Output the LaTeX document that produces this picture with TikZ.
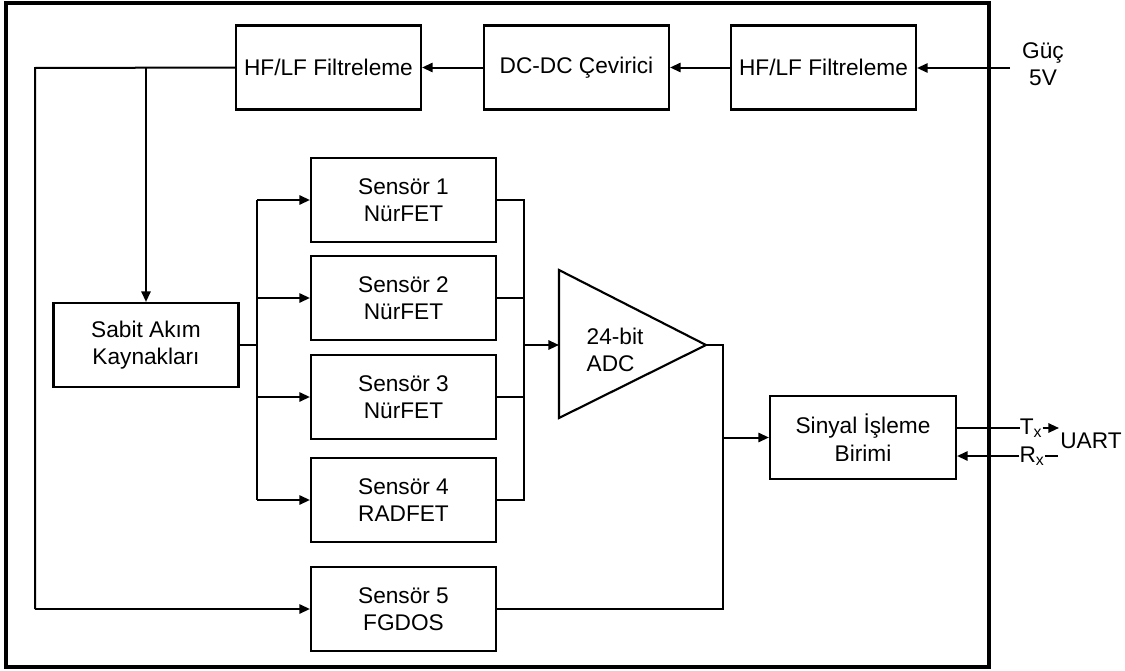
\documentclass[tikz,border=0pt]{standalone}
\usepackage{fontspec}
\setmainfont{Liberation Sans}
\usetikzlibrary{arrows.meta}
\begin{document}
\begin{tikzpicture}[x=0.75pt,y=-0.75pt,
  every node/.style={font=\fontsize{17}{20.5}\selectfont},
  blk/.style={draw,line width=1.6pt,minimum width=138.75pt,minimum height=63pt,inner sep=0pt,align=center},
  wire/.style={line width=1.5pt},
  arr/.style={line width=1.5pt,-{Triangle[length=8pt,width=7pt]}},
  lbl/.style={inner sep=0pt,align=center}]
\useasboundingbox (0,0) rectangle (1125,671);
\draw[line width=2.4pt] (6,3) rectangle (989,667);
% top row
\node[blk] (f1) at (823.5,67.5) {HF/LF Filtreleme};
\node[blk] (dc) at (576.5,67.5) {DC-DC Çevirici};
\node[blk] (f2) at (328.5,67.5) {HF/LF Filtreleme};
\node[lbl] (gc) at (1043,64) {Güç\\5V};
\coordinate (gin) at (1010,68);
\draw[arr] (gin) -- (f1.east |- gin);
\draw[arr] (f1.west) -- (dc.east);
\draw[arr] (dc.west) -- (f2.east);
% sabit
\node[blk] (sa) at (146,345) {Sabit Akım\\Kaynakları};
% sensors
\node[blk] (s1) at (403.5,200) {Sensör 1\\NürFET};
\node[blk] (s2) at (403.5,298) {Sensör 2\\NürFET};
\node[blk] (s3) at (403.5,397) {Sensör 3\\NürFET};
\node[blk] (s4) at (403.5,500) {Sensör 4\\RADFET};
\node[blk] (s5) at (403.5,609) {Sensör 5\\FGDOS};
% power distribution
\coordinate (pl) at (35,68);
\coordinate (pb) at (146,68);
\draw[wire] (f2.west) -- (pl) -- (pl |- s5.west);
\draw[arr] (pl |- s5.west) -- (s5.west);
\draw[arr] (pb) -- (sa.north);
% bus from sabit
\coordinate (bx) at (257,345);
\draw[wire] (sa.east |- bx) -- (bx);
\draw[wire] (bx |- s1.west) -- (bx |- s4.west);
\draw[arr] (bx |- s1.west) -- (s1.west);
\draw[arr] (bx |- s2.west) -- (s2.west);
\draw[arr] (bx |- s3.west) -- (s3.west);
\draw[arr] (bx |- s4.west) -- (s4.west);
% sensor outputs
\coordinate (ox) at (524,345);
\draw[wire] (s1.east) -- (ox |- s1.east) -- (ox |- s4.east) -- (s4.east);
\draw[wire] (s2.east) -- (ox |- s2.east);
\draw[wire] (s3.east) -- (ox |- s3.east);
% ADC
\coordinate (adcin) at (559,345);
\coordinate (adcout) at (706,345);
\draw[line width=1.6pt,line join=miter] (559,270) -- (adcout) -- (559,418) -- cycle;
\node[lbl,align=left] (adct) at (615,350) {24-bit\\ADC};
\draw[arr] (ox) -- (adcin);
% signal processing
\node[blk,minimum width=139.5pt,minimum height=62.25pt] (sp) at (863,437.5) {Sinyal İşleme\\Birimi};
\coordinate (vx) at (723,345);
\draw[wire] (adcout) -- (vx) -- (vx |- s5.east) -- (s5.east);
\draw[arr] (vx |- sp.west) -- (sp.west);
% UART
\node[lbl] (tx) at (1031,428) {T\textsubscript{x}};
\node[lbl] (rx) at (1032,456) {R\textsubscript{x}};
\node[lbl] (ua) at (1091,441) {UART};
\coordinate (txe) at (1059,428);
\coordinate (rxe) at (1058,456);
\draw[wire] (sp.east |- tx.west) -- (tx.west);
\draw[arr] (tx.east) -- (txe);
\draw[arr] (rx.west) -- (sp.east |- rx.west);
\draw[wire] (rx.east) -- (rxe);
\end{tikzpicture}
\end{document}
